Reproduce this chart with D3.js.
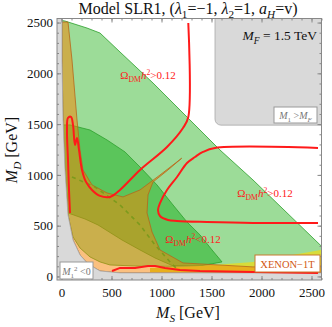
<!DOCTYPE html>
<html>
<head>
<meta charset="utf-8">
<script src="https://cdn.jsdelivr.net/npm/d3@7"></script>
<style>
  body { margin: 0; background: #fff; }
  svg { font-family: "Liberation Serif", "DejaVu Serif", serif; }
</style>
</head>
<body>
<svg id="chart"></svg>
<script>
// tick values
var xTicks = [0, 500, 1000, 1500, 2000, 2500]
var yTicks = [0, 500, 1000, 1500, 2000, 2500]
var minorTicks = d3.range(0, 2601, 100)

// regions, [M_S, M_D] in GeV
var grayLow = [[-60,2600],[-60,-60],[2700,-60],[2700,35],[1385,35],[585,35],[385,54],[265,123],[185,212],[115,360],[65,605],[35,1050],[15,1550],[5,2130],[5,2600]]
var lightGreen = [[5,2520],[35,2515],[255,2446],[385,2397],[585,2210],[915,1905],[1255,1570],[1585,1245],[1915,950],[2650,250],[2650,100],[1500,100],[800,100],[485,113],[385,143],[285,192],[185,280],[115,389],[65,605],[35,1050],[15,1550],[5,2130]]
var darkGreen = [[15,1492],[85,1492],[285,1442],[455,1344],[635,1226],[785,1078],[955,901],[1115,704],[1255,536],[1385,409],[1505,261],[1605,143],[1385,103],[1105,108],[935,182],[785,261],[605,359],[365,507],[235,566],[65,625],[35,1050]]
var orange = [[5,2505],[65,2505],[105,2131],[155,1541],[185,1246],[215,1049],[305,901],[455,822],[615,783],[785,852],[985,999],[1202,1164],[1065,1049],[915,930],[865,803],[855,625],[905,438],[985,261],[1215,133],[1915,94],[2650,103],[2650,40],[1385,35],[585,35],[385,54],[265,123],[185,212],[115,360],[65,605],[35,1050],[15,1550],[5,2130]]
var xenon = [[885,84],[1385,103],[1915,143],[2650,270],[2650,40],[885,40]]
var heavyBox = {x0: 1535, y0: 1490}

// relic density contours
var relicA = [[85,625],[75,852],[65,1147],[55,1443],[65,1561],[95,1571],[115,1492],[135,1295],[155,1364],[175,1246],[205,1049],[245,931],[305,852],[385,793],[485,783],[585,852],[785,1049],[1055,1275],[1215,1462],[1268,1570],[1268,2495]]
var relicB = [[2565,1265],[1535,1265],[1415,1226],[1335,1176],[1255,1117],[1155,979],[1055,851],[985,723],[965,654],[985,595],[1065,556],[1155,546],[1455,536],[1915,527],[2565,527]]
var relicC = [[505,54],[585,84],[735,84],[865,103],[935,103],[1035,84],[1185,64],[1385,54],[1915,44],[2565,34]]
var dashed = [[105,980],[335,881],[585,704],[785,507],[935,310],[1085,143],[1165,64]]

var dimensions = {
    width: 332,
    height: 327,
    left: 57,
    right: 321.5,
    top: 18.5,
    bottom: 280
}

var svg = d3.select("#chart")
    .attr("width", dimensions.width)
    .attr("height", dimensions.height)

var xScale = d3.scaleLinear()
    .domain([-45, 2600])
    .range([dimensions.left, dimensions.right])

var yScale = d3.scaleLinear()
    .domain([-35, 2540])
    .range([dimensions.bottom, dimensions.top])

svg.append("clipPath").attr("id", "plotClip")
    .append("rect")
    .attr("x", dimensions.left).attr("y", dimensions.top)
    .attr("width", dimensions.right - dimensions.left)
    .attr("height", dimensions.bottom - dimensions.top)

var plot = svg.append("g").attr("clip-path", "url(#plotClip)")

var area = d3.line().x(d => xScale(d[0])).y(d => yScale(d[1])).curve(d3.curveLinearClosed)
var smooth = d3.line().x(d => xScale(d[0])).y(d => yScale(d[1])).curve(d3.curveCatmullRom.alpha(0.5))
var straight = d3.line().x(d => xScale(d[0])).y(d => yScale(d[1]))

plot.append("path").attr("d", area(lightGreen))
    .attr("fill", "#9cdc98").attr("stroke", "#2ca02c").attr("stroke-width", 0.8)
plot.append("path").attr("d", area(darkGreen))
    .attr("fill", "#5bc55b").attr("stroke", "#2ca02c").attr("stroke-width", 0.8)
plot.append("path").attr("d", area(xenon))
    .attr("fill", "#d8dc3a").attr("stroke", "none")
plot.append("path").attr("d", area(orange))
    .attr("fill", "rgb(247,129,0)").attr("fill-opacity", 0.5)
    .attr("stroke", "#b8661a").attr("stroke-width", 0.8)
plot.append("path").attr("d", area(grayLow))
    .attr("fill", "#d9d9d9").attr("stroke", "#a8a8a8").attr("stroke-width", 0.8)

// M1 > MF region
plot.append("rect")
    .attr("x", xScale(heavyBox.x0))
    .attr("y", yScale(2700))
    .attr("width", xScale(2800) - xScale(heavyBox.x0))
    .attr("height", yScale(heavyBox.y0) - yScale(2700))
    .attr("rx", 6)
    .attr("fill", "#d9d9d9").attr("stroke", "#a8a8a8").attr("stroke-width", 0.8)

plot.append("path").attr("d", straight(dashed))
    .attr("fill", "none").attr("stroke", "#7c9a1c").attr("stroke-width", 1.6)
    .attr("stroke-dasharray", "4,4")

plot.append("path").attr("d", straight(relicC))
    .attr("fill", "none").attr("stroke", "#ff1a1a").attr("stroke-width", 2)
plot.append("path").attr("d", smooth(relicA))
    .attr("fill", "none").attr("stroke", "#ff1a1a").attr("stroke-width", 2)
plot.append("path").attr("d", smooth(relicB))
    .attr("fill", "none").attr("stroke", "#ff1a1a").attr("stroke-width", 2)

// axes, ticks inside on all four sides
function styleAxis(g) {
    g.select(".domain").remove()
    g.selectAll("line").attr("stroke", "#888")
    g.selectAll("text").attr("fill", "#111").style("font-size", "13px")
        .style("font-family", "'Liberation Serif', serif")
}

var fmt = d3.format("d")

svg.append("g")
    .attr("transform", `translate(0,${dimensions.bottom})`)
    .call(d3.axisBottom(xScale).tickValues(xTicks).tickSize(-4).tickPadding(8).tickFormat(fmt))
    .call(styleAxis)
svg.append("g")
    .attr("transform", `translate(0,${dimensions.bottom})`)
    .call(d3.axisBottom(xScale).tickValues(minorTicks).tickSize(-2).tickFormat(""))
    .call(styleAxis)
svg.append("g")
    .attr("transform", `translate(0,${dimensions.top})`)
    .call(d3.axisTop(xScale).tickValues(xTicks).tickSize(-4).tickFormat(""))
    .call(styleAxis)
svg.append("g")
    .attr("transform", `translate(0,${dimensions.top})`)
    .call(d3.axisTop(xScale).tickValues(minorTicks).tickSize(-2).tickFormat(""))
    .call(styleAxis)
svg.append("g")
    .attr("transform", `translate(${dimensions.left},0)`)
    .call(d3.axisLeft(yScale).tickValues(yTicks).tickSize(-4).tickPadding(4).tickFormat(fmt))
    .call(styleAxis)
svg.append("g")
    .attr("transform", `translate(${dimensions.left},0)`)
    .call(d3.axisLeft(yScale).tickValues(minorTicks.filter(v => v <= 2500)).tickSize(-2).tickFormat(""))
    .call(styleAxis)
svg.append("g")
    .attr("transform", `translate(${dimensions.right},0)`)
    .call(d3.axisRight(yScale).tickValues(yTicks).tickSize(-4).tickFormat(""))
    .call(styleAxis)
svg.append("g")
    .attr("transform", `translate(${dimensions.right},0)`)
    .call(d3.axisRight(yScale).tickValues(minorTicks.filter(v => v <= 2500)).tickSize(-2).tickFormat(""))
    .call(styleAxis)

svg.append("rect")
    .attr("x", dimensions.left).attr("y", dimensions.top)
    .attr("width", dimensions.right - dimensions.left)
    .attr("height", dimensions.bottom - dimensions.top)
    .attr("fill", "none").attr("stroke", "#888").attr("stroke-width", 1)

// text with sub/superscripts: parts = [text, kind]
function rich(x, y, parts, size, color, anchor, rotate) {
    var t = svg.append("text")
        .attr("x", x).attr("y", y)
        .attr("text-anchor", anchor || "start")
        .attr("fill", color)
        .style("font-size", size + "px")
    if (rotate) t.attr("transform", `rotate(${rotate},${x},${y})`)
    var shift = 0
    parts.forEach(function(p) {
        var kind = p[1] || ""
        var target = 0
        if (kind.indexOf("sub") >= 0) target = size * 0.28
        if (kind.indexOf("sup") >= 0) target = -size * 0.4
        var s = t.append("tspan").text(p[0]).attr("dy", target - shift)
        shift = target
        if (kind.indexOf("i") === 0) s.style("font-style", "italic")
        if (target !== 0) s.style("font-size", (size * 0.7) + "px")
    })
    return t
}

rich(188, 14, [["Model SLR1,  (", ""], ["λ", "i"], ["1", "sub"], ["=−1, ", ""], ["λ", "i"], ["2", "sub"], ["=1, ", ""], ["a", "i"], ["H", "isub"], ["=v)", ""]], 16, "#111", "middle")
rich(17, 150, [["M", "i"], ["D", "isub"], [" [GeV]", ""]], 16, "#111", "middle", -90)
rich(188, 318, [["M", "i"], ["S", "isub"], [" [GeV]", ""]], 16, "#111", "middle")

rich(317, 40, [["M", "i"], ["F", "isub"], [" = 1.5 TeV", ""]], 13.5, "#111", "end")

var omegaGT = [["Ω", ""], ["DM", "sub"], ["h", "i"], ["2", "sup"], [">0.12", ""]]
var omegaLT = [["Ω", ""], ["DM", "sub"], ["h", "i"], ["2", "sup"], ["<0.12", ""]]
rich(148, 79, omegaGT, 11, "#ff2020", "middle")
rich(265, 197, omegaGT, 11, "#ff2020", "middle")
rich(193, 243, omegaLT, 11, "#ff2020", "middle")

// label boxes
function box(x0, y0, x1, y1, stroke) {
    svg.append("rect").attr("x", x0).attr("y", y0)
        .attr("width", x1 - x0).attr("height", y1 - y0)
        .attr("fill", "#fff").attr("stroke", stroke).attr("stroke-width", 1)
}
box(274, 107, 317, 123, "#999")
rich(295.5, 119, [["M", "i"], ["1", "sub"], [" >", ""], ["M", "i"], ["F", "isub"]], 10, "#777", "middle")
box(60, 262, 93, 279, "#999")
rich(76.5, 275, [["M", "i"], ["1", "sub"], ["2", "sup"], [" <0", ""]], 10, "#777", "middle")
box(255, 255, 320, 272, "#c87a2e")
rich(287.5, 267.5, [["XENON−1T", ""]], 10.5, "#d2560f", "middle")
</script>
</body>
</html>
